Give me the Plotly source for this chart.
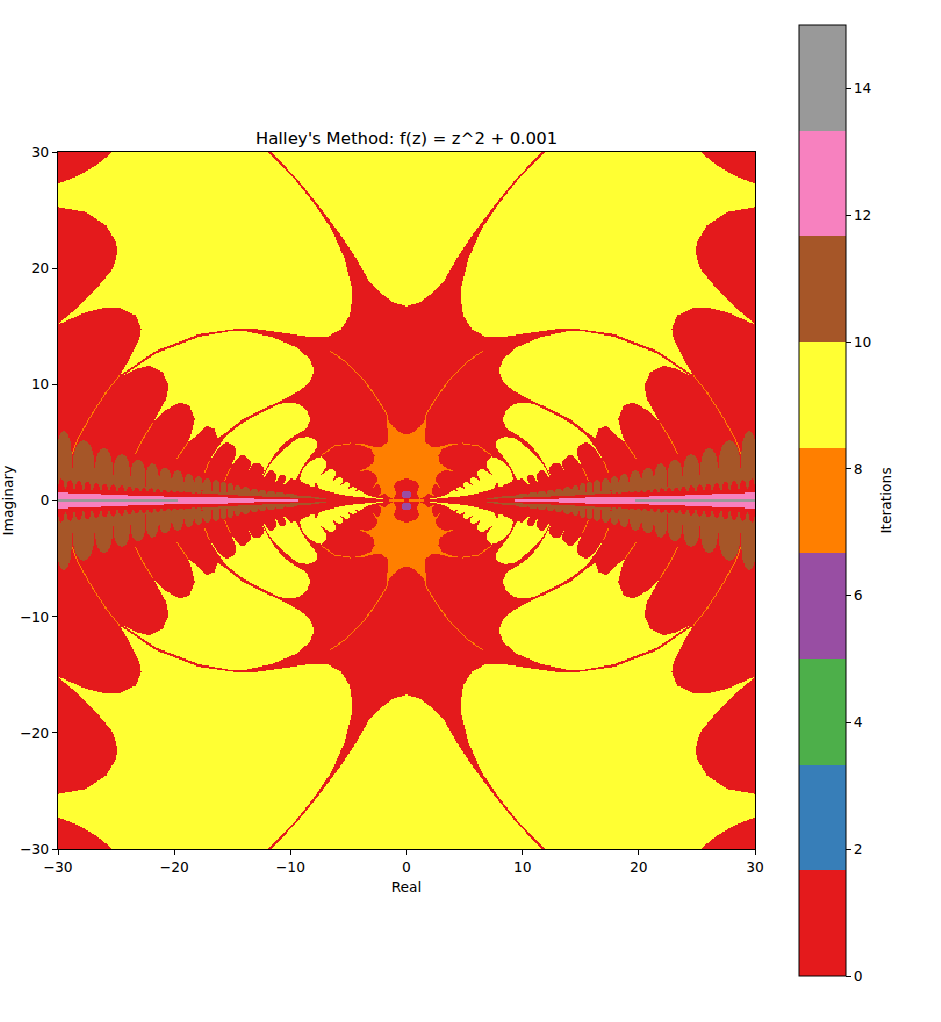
import numpy as np
import plotly.graph_objects as go

# Iteration bands of the colour bar
BAND_COLOURS = ["#e41a1c", "#377eb8", "#4daf4a", "#984ea3", "#ff7f00",
                "#ffff33", "#a65628", "#f781bf", "#999999"]
RED, PURPLE, ORANGE, YELLOW, BROWN, PINK, GREY = 1, 6, 8, 9, 11, 12, 14
CBAR_TICKS = [0, 2, 4, 6, 8, 10, 12, 14]
X_TICKS = [-30, -20, -10, 0, 10, 20, 30]

# Region outlines, upper right quadrant, in data units (Real, Imaginary).
YELLOW_A = [(0, 16.72), (1.15, 17.07), (2.30, 17.93), (3.16, 18.79), (4.31, 20.80), (5.75, 22.96),
            (7.47, 25.26), (9.20, 27.41), (11.6, 30), (0, 30)]
YELLOW_B = [(12, 30), (9.77, 27.84), (8.05, 25.69), (6.47, 23.39), (5.32, 20.80), (4.74, 18.51),
            (4.68, 17.36), (4.89, 15.92), (5.60, 14.77), (6.90, 14.05), (8.62, 14.14), (10.92, 14.48),
            (12.93, 14.77), (14.37, 14.83), (17.82, 14.34), (21.55, 12.90), (24.71, 10.75),
            (23.85, 12.18), (22.99, 13.91), (22.84, 14.77), (23.28, 15.92), (24.71, 16.58),
            (25.86, 16.64), (27.59, 16.21), (30, 15.14), (30, 15.2), (28.45, 16.49), (26.72, 18.22),
            (25.29, 19.94), (24.86, 21.38), (25.0, 22.24), (25.86, 23.68), (27.59, 24.83),
            (30, 25.26), (30, 27.27), (28.16, 27.99), (26.72, 28.85), (25.29, 30)]
YELLOW_C = [(7.99, 11.32), (8.33, 12.18), (9.48, 13.19), (11.49, 14.05), (13.79, 14.57), (14.94, 14.63),
            (17.82, 14.11), (21.55, 12.67), (24.43, 10.75), (23.28, 11.32), (22.13, 11.61),
            (20.98, 11.03), (20.46, 9.89), (20.69, 8.74), (21.84, 6.67), (20.83, 7.73), (19.54, 8.45),
            (18.68, 8.16), (18.22, 7.01), (18.53, 5.72), (18.82, 5.0), (18.07, 5.57), (17.24, 6.44),
            (16.52, 6.15), (16.29, 5.35), (15.52, 5.86), (14.08, 7.01), (12.36, 7.87), (10.63, 8.68),
            (9.20, 9.45), (8.33, 10.17), (7.99, 11.03)]
YELLOW_M = [(8.28, 7.01), (8.62, 7.87), (9.48, 8.39), (10.63, 8.45), (12.36, 7.64), (14.08, 6.72),
            (15.52, 5.57), (16.52, 4.20), (16.95, 3.42), (16.24, 4.43), (15.52, 5.06), (14.80, 4.71),
            (14.66, 3.99), (15.14, 2.84), (14.51, 3.71), (14.08, 3.99), (13.30, 3.28), (13.65, 2.41),
            (13.22, 3.19), (12.79, 3.28), (12.16, 2.70), (12.5, 1.9), (11.9, 3.1), (11.21, 4.20),
            (10.06, 5.34), (8.62, 6.15)]
YELLOW_N = [(7.61, 5.03), (8.33, 5.52), (9.48, 5.32), (10.63, 4.31), (11.78, 3.13), (12.41, 1.84),
            (11.64, 2.73), (11.15, 2.13), (11.44, 1.26), (10.78, 2.36), (10.34, 1.98), (10.63, 1.26),
            (9.91, 1.95), (9.54, 1.70), (9.14, 2.53), (8.62, 3.42), (7.76, 4.43)]
YELLOW_O = [(6.84, 3.30), (7.41, 3.88), (8.62, 3.13), (9.05, 2.47), (9.20, 1.72), (8.85, 1.49),
            (8.48, 1.38), (8.13, 1.18), (7.9, 1.21), (7.82, 1.61), (7.24, 2.41), (6.90, 2.84)]
YELLOW_TAIL = [(6.03, 2.44), (6.47, 2.79), (7.41, 2.16), (7.82, 1.70), (7.53, 1.03), (6.90, 0.83),
               (6.18, 0.63), (5.46, 0.46), (4.31, 0.32), (2.87, 0.17), (1.44, 0.06), (2.87, 0.30),
               (3.59, 0.57), (3.74, 0.72), (4.08, 0.92), (4.54, 0.72), (4.25, 1.0), (4.6, 1.24),
               (5.11, 0.92), (4.83, 1.39), (5.17, 1.67), (5.75, 1.21), (5.40, 1.78), (5.75, 2.13),
               (6.38, 1.55)]
ORANGE_CORE = [(0, 5.64), (0.59, 5.87), (1.16, 6.35), (1.59, 6.93), (1.65, 7.36), (1.74, 6.93),
               (1.59, 5.78), (1.59, 5.06), (2.17, 4.63), (2.88, 4.63), (3.74, 4.89), (4.75, 4.92),
               (3.74, 4.72), (3.08, 4.43), (2.74, 3.86), (2.88, 3.2), (3.46, 2.77), (4.17, 2.48),
               (3.31, 2.62), (2.74, 2.34), (2.45, 1.76), (3.03, 0.9), (2.6, 1.39), (2.31, 1.33),
               (2.17, 0.76), (2.45, 0.33), (1.88, 0.62), (1.59, 0.33), (1.16, 0.13), (0.88, 0.62),
               (1.08, 1.19), (0.88, 1.62), (0.44, 1.76), (0, 1.91)]
ORANGE_AXIS = [(0.2, 0), (0.2, 0.1), (1.4, 0.12), (1.6, 0)]
PURPLE_CORE = [(0, 0.2), (0.35, 0.25), (0.4, 0.6), (0.2, 0.85), (0, 0.85)]
THIN_ARCS = [
    [(1.65, 7.36), (2.59, 8.88), (3.74, 10.46), (5.17, 11.90), (6.61, 12.90)],
    [(24.71, 10.75), (25.86, 9.31), (27.16, 7.30), (28.30, 5.29), (29.17, 2.99)],
    [(21.84, 6.67), (22.70, 5.29), (23.33, 3.99)],
    [(18.82, 5.0), (19.31, 4.28), (19.83, 3.56)],
    [(16.95, 3.42), (17.39, 2.41)],
    [(15.14, 2.84), (15.66, 1.7)],
    [(4.75, 4.92), (6.18, 4.71), (7.3, 3.9)],
]
# Brown domes: left, right, top, base
BROWN_DOMES = [(28.79, 30.17, 5.98, 1.8), (26.84, 28.76, 5.17, 1.58), (25.29, 26.81, 4.51, 1.43),
               (23.79, 25.26, 3.97, 1.29), (22.47, 23.76, 3.53, 1.2), (21.32, 22.44, 3.16, 1.09),
               (20.23, 21.29, 2.82, 1.03), (19.2, 20.2, 2.59, 1.0), (18.3, 19.17, 2.30, .92),
               (17.53, 18.28, 2.10, .86), (16.78, 17.5, 1.93, .8), (16.06, 16.75, 1.78, .72),
               (15.46, 16.03, 1.64, .66), (14.89, 15.43, 1.52, .6), (14.22, 14.86, 1.29, .56),
               (13.5, 14.2, 1.21, .52), (12.79, 13.48, 1.0, .5), (12.07, 12.76, .9, .5),
               (11.3, 12.05, .8, .48), (10.5, 11.25, .72, .45), (9.7, 10.45, .64, .42)]
BROWN_BAND = [(6.9, 0.15), (8, 0.33), (10, 0.5), (12, 0.6), (15.78, .7), (17.8, .86), (19.66, 1.0), (21.24, 1.09),
              (22.4, 1.2), (23.7, 1.29), (25.26, 1.43), (26.84, 1.58), (28.7, 1.85), (30, 2.0), (30, 1.0),
              (25.3, .85), (21, .72), (17, .6), (14, .42), (10, .25), (6.9, .1)]
# Red bumps under the brown band: left, right, top, base
RED_BUMPS = [(29.43, 30, 1.87, .6), (28.65, 29.28, 1.78, .6), (27.90, 28.51, 1.72, .6), (27.18, 27.76, 1.64, .6),
             (26.41, 26.98, 1.52, .55), (25.69, 26.26, 1.44, .55), (24.97, 25.55, 1.38, .5), (24.25, 24.83, 1.29, .5),
             (23.59, 24.11, 1.21, .5), (22.96, 23.48, 1.15, .5), (22.33, 22.84, 1.09, .45), (21.75, 22.24, 1.06, .45),
             (21.18, 21.64, 1.0, .45), (20.60, 21.06, .92, .4), (20.03, 20.49, .86, .4), (19.45, 19.91, .80, .4),
             (18.94, 19.37, .78, .35), (18.42, 18.85, .72, .35), (17.93, 18.33, .69, .35), (17.44, 17.84, .66, .3)]
PINK_BAND = [(5, 0), (8, .03), (12, .09), (14, .2), (16, .27), (20, .32), (24, .45), (27, .58), (30, .68), (30, 0)]
GREY_BAND = [(19.5, 0), (20, .1), (25, .12), (30, .15), (30, 0)]

CELL = 0.1
centres = (np.arange(300) + 0.5) * CELL
GX, GY = np.meshgrid(centres, centres)


def inside(outline):
    p = np.asarray(outline, float)
    q = np.roll(p, -1, axis=0)
    hit = np.zeros(GX.shape, bool)
    for (x0, y0), (x1, y1) in zip(p, q):
        if y0 == y1:
            continue
        crosses = (y0 > GY) != (y1 > GY)
        hit ^= crosses & (GX < x0 + (GY - y0) * (x1 - x0) / (y1 - y0))
    return hit


def rounded(outline):
    p = np.asarray(outline, float)
    q = np.roll(p, -1, axis=0)
    out = np.empty((2 * len(p), 2))
    out[0::2] = 0.8 * p + 0.2 * q
    out[1::2] = 0.2 * p + 0.8 * q
    return out


def ribbon(points, half_width=0.045):
    p = np.asarray(points, float)
    d = np.gradient(p, axis=0)
    n = np.c_[-d[:, 1], d[:, 0]] / np.hypot(d[:, 0], d[:, 1])[:, None]
    return np.r_[p + n * half_width, (p - n * half_width)[::-1]]


def dome(left, right, top, base, fullness=0.55):
    t = np.linspace(np.pi, 0, 25)
    xs = (left + right) / 2 + (right - left) / 2 * np.cos(t)
    ys = base + (top - base) * np.sin(t) ** fullness
    return np.c_[xs, ys]


quadrant = np.full(GX.shape, RED, dtype=np.int8)
for outline in [YELLOW_A, YELLOW_B, YELLOW_C]:
    quadrant[inside(outline)] = YELLOW
for outline in [YELLOW_M, YELLOW_N, YELLOW_O, YELLOW_TAIL]:
    quadrant[inside(rounded(outline))] = YELLOW
for outline in [ORANGE_CORE, ORANGE_AXIS] + [ribbon(a) for a in THIN_ARCS]:
    quadrant[inside(outline)] = ORANGE
quadrant[inside(PURPLE_CORE)] = PURPLE
for d in BROWN_DOMES:
    quadrant[inside(dome(*d))] = BROWN
quadrant[inside(BROWN_BAND)] = BROWN
for b in RED_BUMPS:
    quadrant[inside(dome(*b, fullness=0.7))] = RED
quadrant[inside(PINK_BAND)] = PINK
quadrant[inside(GREY_BAND)] = GREY

top = np.hstack([quadrant[:, ::-1], quadrant])
z = np.vstack([top[::-1], top])
axis_cells = np.r_[-centres[::-1], centres]

colorscale = []
for i, c in enumerate(BAND_COLOURS):
    colorscale += [[i / 9, c], [(i + 1) / 9, c]]

W, H = 941, 1022
FONT = "DejaVu Sans"
fig = go.Figure(go.Heatmap(
    z=z, x=axis_cells, y=axis_cells, zmin=0, zmax=15, colorscale=colorscale, hoverinfo="skip",
    colorbar=dict(
        x=799 / W, xanchor="left", y=1 - 25 / H, yanchor="top", thickness=47, thicknessmode="pixels",
        len=951, lenmode="pixels", xpad=0, ypad=0, outlinewidth=1, outlinecolor="black",
        tickvals=CBAR_TICKS, ticks="outside", ticklen=5, tickwidth=1, tickcolor="black", tickprefix="\u00a0",
        tickfont=dict(family=FONT, size=13.9, color="black"),
    ),
))
axis = dict(range=[-30, 30], tickvals=X_TICKS, ticks="outside", ticklen=5, tickwidth=1, tickcolor="black",
            showline=True, linecolor="black", linewidth=1, mirror=True, showgrid=False, zeroline=False,
            tickfont=dict(family=FONT, size=13.9, color="black"), automargin=False)
fig.update_layout(
    width=W, height=H, margin=dict(l=0, r=0, t=0, b=0), paper_bgcolor="white", plot_bgcolor="white",
    title=dict(text="Halley's Method: f(z) = z^2 + 0.001", x=406.5 / W, xref="paper", xanchor="center",
               y=1 - 138 / H, yref="paper", yanchor="middle", font=dict(family=FONT, size=16.67, color="black")),
    xaxis=dict(axis, domain=[58 / W, 755 / W], title=dict(text="Real", standoff=8, font=dict(family=FONT, size=13.9, color="black"))),
    yaxis=dict(axis, domain=[1 - 849 / H, 1 - 152 / H], title=dict(text="Imaginary", standoff=10, font=dict(family=FONT, size=13.9, color="black"))),
    annotations=[dict(text="Iterations", x=885 / W, y=1 - 500.5 / H, xref="paper", yref="paper", textangle=-90,
                      showarrow=False, xanchor="center", yanchor="middle", font=dict(family=FONT, size=13.9, color="black"))],
)
fig.write_html("out.html", config={"displayModeBar": False}, post_script="document.body.style.margin='0';")
